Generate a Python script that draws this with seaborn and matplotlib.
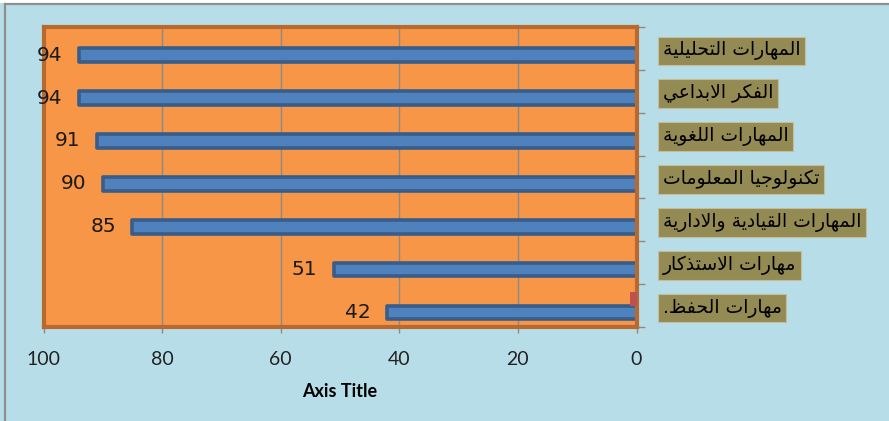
import matplotlib as mpl
import matplotlib.pyplot as plt
import numpy as np
import pandas as pd
import seaborn as sns
from matplotlib.patches import Rectangle
from matplotlib.lines import Line2D

# Chart data (top to bottom)
skills = [
    "المهارات التحليلية",
    "الفكر الابداعي",
    "المهارات اللغوية",
    "تكنولوجيا المعلومات",
    "المهارات القيادية والادارية",
    "مهارات الاستذكار",
    "مهارات الحفظ.",
]
scores = [94, 94, 91, 90, 85, 51, 42]
second_series = [np.nan, np.nan, np.nan, np.nan, np.nan, np.nan, 1.1]
x_ticks = [0, 20, 40, 60, 80, 100]

# Arabic letter forms: (isolated, final, initial, medial)
FORMS = {
    "ا": (0xFE8D, 0xFE8E, None, None),
    "ب": (0xFE8F, 0xFE90, 0xFE91, 0xFE92),
    "ة": (0xFE93, 0xFE94, None, None),
    "ت": (0xFE95, 0xFE96, 0xFE97, 0xFE98),
    "ث": (0xFE99, 0xFE9A, 0xFE9B, 0xFE9C),
    "ج": (0xFE9D, 0xFE9E, 0xFE9F, 0xFEA0),
    "ح": (0xFEA1, 0xFEA2, 0xFEA3, 0xFEA4),
    "خ": (0xFEA5, 0xFEA6, 0xFEA7, 0xFEA8),
    "د": (0xFEA9, 0xFEAA, None, None),
    "ذ": (0xFEAB, 0xFEAC, None, None),
    "ر": (0xFEAD, 0xFEAE, None, None),
    "ز": (0xFEAF, 0xFEB0, None, None),
    "س": (0xFEB1, 0xFEB2, 0xFEB3, 0xFEB4),
    "ش": (0xFEB5, 0xFEB6, 0xFEB7, 0xFEB8),
    "ص": (0xFEB9, 0xFEBA, 0xFEBB, 0xFEBC),
    "ض": (0xFEBD, 0xFEBE, 0xFEBF, 0xFEC0),
    "ط": (0xFEC1, 0xFEC2, 0xFEC3, 0xFEC4),
    "ظ": (0xFEC5, 0xFEC6, 0xFEC7, 0xFEC8),
    "ع": (0xFEC9, 0xFECA, 0xFECB, 0xFECC),
    "غ": (0xFECD, 0xFECE, 0xFECF, 0xFED0),
    "ف": (0xFED1, 0xFED2, 0xFED3, 0xFED4),
    "ق": (0xFED5, 0xFED6, 0xFED7, 0xFED8),
    "ك": (0xFED9, 0xFEDA, 0xFEDB, 0xFEDC),
    "ل": (0xFEDD, 0xFEDE, 0xFEDF, 0xFEE0),
    "م": (0xFEE1, 0xFEE2, 0xFEE3, 0xFEE4),
    "ن": (0xFEE5, 0xFEE6, 0xFEE7, 0xFEE8),
    "ه": (0xFEE9, 0xFEEA, 0xFEEB, 0xFEEC),
    "و": (0xFEED, 0xFEEE, None, None),
    "ى": (0xFEEF, 0xFEF0, None, None),
    "ي": (0xFEF1, 0xFEF2, 0xFEF3, 0xFEF4),
}
LAM_ALEF = {"ا": (0xFEFB, 0xFEFC), "أ": (0xFEF7, 0xFEF8), "إ": (0xFEF9, 0xFEFA)}


def joins_next(c):
    return c in FORMS and FORMS[c][2] is not None


def shape_arabic(text):
    """Join Arabic letters into presentation forms and put them in visual order."""
    out = []
    i, n = 0, len(text)
    while i < n:
        c = text[i]
        if c not in FORMS:
            out.append(c)
            i += 1
            continue
        prev_joins = i > 0 and joins_next(text[i - 1])
        if c == "ل" and i + 1 < n and text[i + 1] in LAM_ALEF:
            lig = LAM_ALEF[text[i + 1]]
            out.append(chr(lig[1] if prev_joins else lig[0]))
            i += 2
            continue
        next_joins = joins_next(c) and i + 1 < n and text[i + 1] in FORMS
        iso, fin, ini, med = FORMS[c]
        if prev_joins and next_joins:
            form = med
        elif prev_joins:
            form = fin
        elif next_joins:
            form = ini
        else:
            form = iso
        out.append(chr(form))
        i += 1
    return "".join(reversed(out))


mpl.rcParams["font.family"] = ["DejaVu Sans"]

df = pd.concat(
    [
        pd.DataFrame({"skill": skills, "value": second_series, "series": "s2"}),
        pd.DataFrame({"skill": skills, "value": scores, "series": "s1"}),
    ],
    ignore_index=True,
)

W, H = 889, 421
fig = plt.figure(figsize=(W / 100, H / 100), dpi=100, facecolor="#b7dee8")
ax = fig.add_axes([43.5 / W, 1 - 327 / H, 593 / W, 300 / H])
ax.set_facecolor("#f79646")

sns.barplot(
    data=df,
    y="skill",
    x="value",
    hue="series",
    hue_order=["s2", "s1"],
    order=skills,
    orient="h",
    palette={"s1": "#4f81bd", "s2": "#c0504d"},
    saturation=1,
    width=0.64,
    legend=False,
    ax=ax,
)

red_bars, blue_bars = ax.containers[0], ax.containers[1]
for p in blue_bars:
    p.set_edgecolor("#385d8a")
    p.set_linewidth(2.6)
    p.set_joinstyle("round")
for p in red_bars:
    p.set_linewidth(0)
    p.set_zorder(3)

ax.set_xlim(100, 0)
ax.set_ylim(len(skills) - 0.5, -0.5)
ax.set_xticks(x_ticks)
ax.set_xticklabels([str(t) for t in x_ticks], family="Lato", fontsize=14, color="#222222")
ax.tick_params(axis="x", length=4, width=1, color="#8a8a8a", pad=13)
ax.xaxis.grid(True, color="#8a8a8a", linewidth=1)
ax.set_axisbelow(True)
ax.set_xlabel("Axis Title", family="Lato", fontweight="bold", fontsize=13, labelpad=11)
ax.set_ylabel("")

# Category labels on the right, boundary tick marks
ax.yaxis.tick_right()
ax.set_yticks(range(len(skills)))
ax.set_yticklabels([shape_arabic(s) for s in skills], fontsize=13.5, color="black")
ax.set_yticks(np.arange(-0.5, len(skills), 1.0), minor=True)
ax.tick_params(axis="y", which="major", length=0, pad=19)
ax.tick_params(axis="y", which="minor", length=6, width=1, color="#8a8a8a", direction="out")
for lab in ax.get_yticklabels():
    lab.set_bbox(dict(boxstyle="square,pad=0.25", facecolor="#948a54", edgecolor="#c4bd97", linewidth=0.8))

for side in ["left", "right", "top", "bottom"]:
    ax.spines[side].set_visible(True)
    ax.spines[side].set_color("#b8692f")
    ax.spines[side].set_linewidth(3)

ax.bar_label(blue_bars, fmt="%d", padding=12, fontsize=14.5, color="#1a1a1a")

# Outer chart border
fig.patches.append(Rectangle((0, 1 - 3 / H), 1, 3 / H, transform=fig.transFigure, facecolor="white", edgecolor="none"))
fig.lines.append(Line2D([4.5 / W, 4.5 / W], [0, 1 - 4 / H], transform=fig.transFigure, color="#8e8e8e", linewidth=1.6))
fig.lines.append(Line2D([4.5 / W, 1], [1 - 4 / H, 1 - 4 / H], transform=fig.transFigure, color="#8e8e8e", linewidth=1.6))

fig.savefig("out.png", dpi=100, facecolor=fig.get_facecolor())
